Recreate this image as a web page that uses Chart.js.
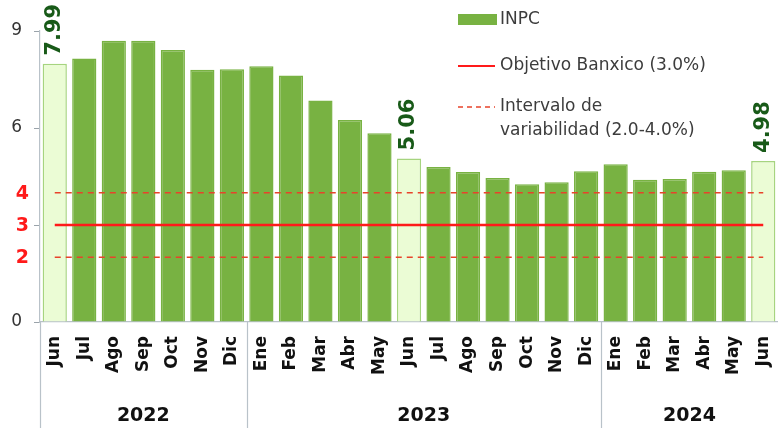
<!DOCTYPE html>
<html>
<head>
<meta charset="utf-8">
<script src="https://cdn.jsdelivr.net/npm/chart.js@4"></script>
<style>
  html, body { margin: 0; padding: 0; background: #fff; }
  #wrap { width: 778px; height: 428px; }
</style>
</head>
<body>
<div id="wrap"><canvas id="chart1"></canvas></div>
<script>
// Inflación anual INPC (%), jun 2022 - jun 2024
const meses = ['Jun', 'Jul', 'Ago', 'Sep', 'Oct', 'Nov', 'Dic',
               'Ene', 'Feb', 'Mar', 'Abr', 'May', 'Jun', 'Jul', 'Ago', 'Sep', 'Oct', 'Nov', 'Dic',
               'Ene', 'Feb', 'Mar', 'Abr', 'May', 'Jun'];
const inpc = [7.99, 8.15, 8.70, 8.70, 8.41, 7.80, 7.82,
              7.91, 7.62, 6.85, 6.25, 5.84, 5.06, 4.79, 4.64, 4.45, 4.26, 4.32, 4.66,
              4.88, 4.40, 4.42, 4.65, 4.69, 4.98];
const anios = ['2022', '2023', '2024'];
const inicioAnio = [0, 7, 19];      // índice del primer mes de cada año
const destacados = [0, 12, 24];     // barras de junio resaltadas
const objetivo = 3.0;
const intervalo = [2.0, 4.0];
const yTicks = [0, 3, 6, 9];
const rangoTicks = [2, 3, 4];

const verde = '#78b242';
const verdeClaro = '#ebfcd5';
const rojo = '#ff1a1a';

const barColors = inpc.map((v, i) => destacados.includes(i) ? verdeClaro : verde);
const barBorders = inpc.map((v, i) => destacados.includes(i) ? '#a6d47f' : verde);

const extras = {
    id: 'extras',
    afterDraw(chart) {
        const ctx = chart.ctx;
        const x = chart.scales.x, y = chart.scales.y;
        const area = chart.chartArea;
        const step = x.getPixelForValue(1) - x.getPixelForValue(0);
        ctx.save();

        // separadores de año
        ctx.strokeStyle = '#b9c2c9';
        ctx.lineWidth = 1.2;
        inicioAnio.forEach(i => {
            const px = Math.round(x.getPixelForValue(i) - step / 2) + 0.5;
            ctx.beginPath();
            ctx.moveTo(px, area.bottom);
            ctx.lineTo(px, chart.height);
            ctx.stroke();
        });

        // etiquetas de año
        ctx.fillStyle = '#111';
        ctx.font = 'bold 19px "DejaVu Sans"';
        ctx.textAlign = 'center';
        ctx.textBaseline = 'middle';
        anios.forEach((a, k) => {
            const first = inicioAnio[k];
            const last = k + 1 < inicioAnio.length ? inicioAnio[k + 1] - 1 : meses.length - 1;
            const cx = (x.getPixelForValue(first) + x.getPixelForValue(last)) / 2;
            ctx.fillText(a, cx, 416);
        });

        // etiquetas rojas 2, 3, 4
        ctx.fillStyle = rojo;
        ctx.font = 'bold 19px "DejaVu Sans"';
        ctx.textAlign = 'right';
        rangoTicks.forEach(v => {
            ctx.fillText(String(v), 29, y.getPixelForValue(v) + 1);
        });

        // valores de las barras resaltadas
        ctx.fillStyle = '#185a18';
        ctx.font = 'bold 21px "DejaVu Sans"';
        ctx.textAlign = 'left';
        ctx.textBaseline = 'middle';
        destacados.forEach(i => {
            const px = x.getPixelForValue(i);
            const py = y.getPixelForValue(inpc[i]) - 8;
            ctx.save();
            ctx.translate(px, py);
            ctx.rotate(-Math.PI / 2);
            ctx.fillText(inpc[i].toFixed(2), 0, 0);
            ctx.restore();
        });

        // leyenda
        const lx = 458;
        ctx.fillStyle = verde;
        ctx.fillRect(lx, 14, 39, 11);
        ctx.strokeStyle = rojo;
        ctx.lineWidth = 2;
        ctx.beginPath();
        ctx.moveTo(lx, 66); ctx.lineTo(lx + 37, 66);
        ctx.stroke();
        ctx.strokeStyle = '#e8432a';
        ctx.lineWidth = 1.5;
        ctx.setLineDash([5, 4]);
        ctx.beginPath();
        ctx.moveTo(lx, 107); ctx.lineTo(lx + 37, 107);
        ctx.stroke();
        ctx.setLineDash([]);
        ctx.fillStyle = '#3c3c3c';
        ctx.font = '17px "DejaVu Sans"';
        ctx.textAlign = 'left';
        ctx.fillText('INPC', 500, 20);
        ctx.fillText('Objetivo Banxico (3.0%)', 500, 66);
        ctx.fillText('Intervalo de', 500, 107);
        ctx.fillText('variabilidad (2.0-4.0%)', 500, 131);

        ctx.restore();
    }
};

document.addEventListener('DOMContentLoaded', function() {
    var ctx = document.getElementById('chart1').getContext('2d');
    var myChart = new Chart(ctx, {
        type: 'bar',
        data: {
            labels: meses,
            datasets: [{
                label: 'INPC',
                data: inpc,
                backgroundColor: barColors,
                borderColor: barBorders,
                borderWidth: 1.5,
                barPercentage: 0.82,
                categoryPercentage: 1.0,
                order: 2
            }, {
                type: 'line',
                label: 'Objetivo Banxico (3.0%)',
                data: inpc.map(() => objetivo),
                borderColor: rojo,
                borderWidth: 2.5,
                pointRadius: 0,
                order: 1
            }, {
                type: 'line',
                label: 'Límite inferior',
                data: inpc.map(() => intervalo[0]),
                borderColor: '#e8432a',
                borderWidth: 1.5,
                borderDash: [6, 5],
                pointRadius: 0,
                order: 1
            }, {
                type: 'line',
                label: 'Límite superior',
                data: inpc.map(() => intervalo[1]),
                borderColor: '#e8432a',
                borderWidth: 1.5,
                borderDash: [6, 5],
                pointRadius: 0,
                order: 1
            }]
        },
        options: {
            responsive: true,
            maintainAspectRatio: false,
            animation: false,
            layout: { padding: { top: 31, right: 0, left: 0, bottom: 0 } },
            plugins: {
                legend: { display: false },
                tooltip: { enabled: false }
            },
            scales: {
                x: {
                    offset: true,
                    grid: { display: false, drawTicks: false },
                    border: { display: true, color: '#b9c2c9', width: 1.2 },
                    ticks: {
                        autoSkip: false,
                        minRotation: 90,
                        maxRotation: 90,
                        padding: 14,
                        color: '#111',
                        font: { family: 'DejaVu Sans', size: 17, weight: 'bold' }
                    },
                    afterFit: function(scale) {
                        scale.height = 106;
                        scale.paddingLeft = 0;
                        scale.paddingRight = 0;
                    }
                },
                y: {
                    min: 0,
                    max: 9,
                    afterBuildTicks: function(axis) {
                        axis.ticks = yTicks.map(v => ({ value: v }));
                    },
                    grid: { drawOnChartArea: false, tickLength: 6, color: '#9aa3aa' },
                    border: { display: true, color: '#b9c2c9', width: 1.2 },
                    ticks: {
                        padding: 12,
                        color: '#333',
                        font: { family: 'DejaVu Sans', size: 17 },
                        callback: v => v === 3 ? '' : v
                    },
                    afterFit: function(scale) { scale.width = 40; }
                }
            }
        },
        plugins: [extras]
    });
});
</script>
</body>
</html>
